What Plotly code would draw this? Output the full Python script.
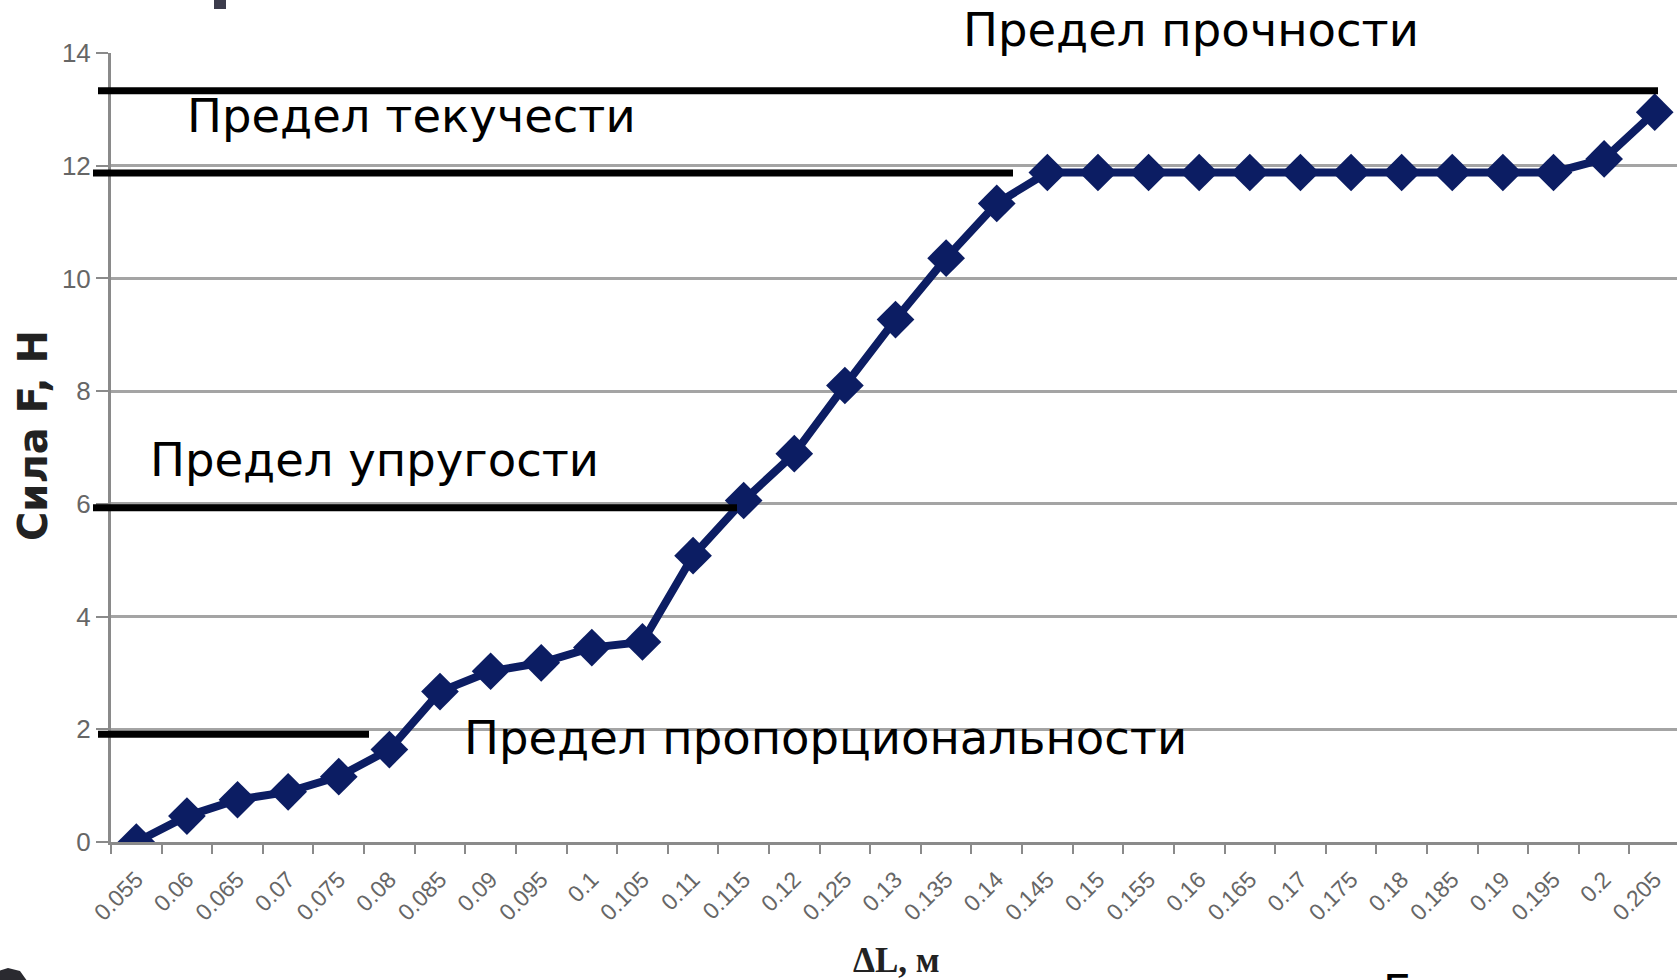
import plotly.graph_objects as go

# ---------------- data ----------------
categories = ["0.055", "0.06", "0.065", "0.07", "0.075", "0.08", "0.085", "0.09",
              "0.095", "0.1", "0.105", "0.11", "0.115", "0.12", "0.125", "0.13",
              "0.135", "0.14", "0.145", "0.15", "0.155", "0.16", "0.165", "0.17",
              "0.175", "0.18", "0.185", "0.19", "0.195", "0.2", "0.205"]
force = [0, 0.46, 0.75, 0.89, 1.16, 1.64, 2.67, 3.03,
         3.18, 3.45, 3.55, 5.08, 6.06, 6.89, 8.10, 9.27,
         10.36, 11.33, 11.88, 11.88, 11.88, 11.88, 11.88, 11.88,
         11.88, 11.88, 11.88, 11.88, 11.88, 12.12, 12.95]

limit_names = ["Предел прочности", "Предел текучести", "Предел упругости",
               "Предел пропорциональности"]
limit_levels = [13.33, 11.87, 5.93, 1.91]

y_title = "Сила F, Н"
x_title = "ΔL, м"

# ---------------- layout geometry (pixels) ----------------
W, H = 1677, 980
L, R, T, B = 111, 0, 53, 138
PW = W - L - R
PH = H - T - B


def px(xp):
    return (xp - L) / PW


def py(yp):
    return (H - B - yp) / PH


NAVY = "#0c1d63"

fig = go.Figure()
fig.add_trace(go.Scatter(
    x=categories, y=force, mode="lines+markers",
    line=dict(color=NAVY, width=8),
    marker=dict(symbol="diamond", size=29, color=NAVY),
    showlegend=False, hoverinfo="x+y",
))

# horizontal limit lines: (left px, right px)
line_spans = [(98, 1658), (93, 1013), (93, 737), (98, 369)]
for lvl, (x0, x1) in zip(limit_levels, line_spans):
    fig.add_shape(type="line", xref="paper", yref="y",
                  x0=px(x0), x1=px(x1), y0=lvl, y1=lvl,
                  line=dict(color="black", width=7), layer="above")

# label positions: (left px, middle px)
label_pos = [(961, 30), (185, 116), (148, 460), (462, 738)]
annotations = []
for name, (xl, ym) in zip(limit_names, label_pos):
    annotations.append(dict(
        text=name, xref="paper", yref="paper", x=px(xl), y=py(ym),
        xanchor="left", yanchor="middle", showarrow=False,
        font=dict(family="DejaVu Sans", size=46.5, color="black")))

annotations.append(dict(
    text="<b>" + y_title + "</b>", xref="paper", yref="paper",
    x=px(33), y=py(436), xanchor="center", yanchor="middle",
    textangle=-90, showarrow=False,
    font=dict(family="DejaVu Sans", size=40, color="#222222")))
annotations.append(dict(
    text="<b>" + x_title + "</b>", xref="paper", yref="paper",
    x=px(896), y=py(960), xanchor="center", yanchor="middle",
    showarrow=False,
    font=dict(family="Liberation Serif", size=35, color="#222222")))
# cut-off slide letter at bottom
annotations.append(dict(
    text="Б", xref="paper", yref="paper", x=px(1398), y=py(964),
    xanchor="center", yanchor="top", showarrow=False,
    font=dict(family="DejaVu Sans", size=44, color="black")))

# cut-off fragment of slide title at the very top
fig.add_shape(type="rect", xref="paper", yref="paper",
              x0=px(214), x1=px(226), y0=py(9), y1=py(-5),
              line=dict(width=0), fillcolor="#3c3c4c", layer="above")

# cut-off slide decoration at bottom-left corner
pts = [(-5, 972), (8, 968), (20, 971), (30, 985), (-5, 985)]
path = "M " + " L ".join(f"{px(a):.5f},{py(b):.5f}" for a, b in pts) + " Z"
fig.add_shape(type="path", xref="paper", yref="paper", path=path,
              line=dict(width=0), fillcolor="#2a2a30", layer="above")

fig.update_layout(
    width=W, height=H,
    margin=dict(l=L, r=R, t=T, b=B, pad=0),
    paper_bgcolor="white", plot_bgcolor="white",
    annotations=annotations,
    xaxis=dict(
        type="category", range=[-0.5, 30.44],
        showgrid=False, zeroline=False,
        showline=True, linecolor="#8a8a8a", linewidth=3,
        ticks="outside", tickson="boundaries", ticklen=9, tickwidth=2,
        tickcolor="#8a8a8a", tickangle=-45, ticklabelstandoff=12,
        tickfont=dict(family="Liberation Sans", size=23, color="#666666"),
    ),
    yaxis=dict(
        range=[0, 14], dtick=2, tick0=0,
        showgrid=True, gridcolor="#a4a4a4", gridwidth=3,
        zeroline=False,
        showline=True, linecolor="#8a8a8a", linewidth=3,
        ticks="outside", ticklen=12, tickwidth=2, tickcolor="#8a8a8a",
        tickfont=dict(family="Liberation Sans", size=26, color="#666666"),
    ),
)

fig.write_html(
    "out.html",
    config={"displayModeBar": False},
    post_script="document.body.style.margin='0';document.body.style.overflow='hidden';",
)
